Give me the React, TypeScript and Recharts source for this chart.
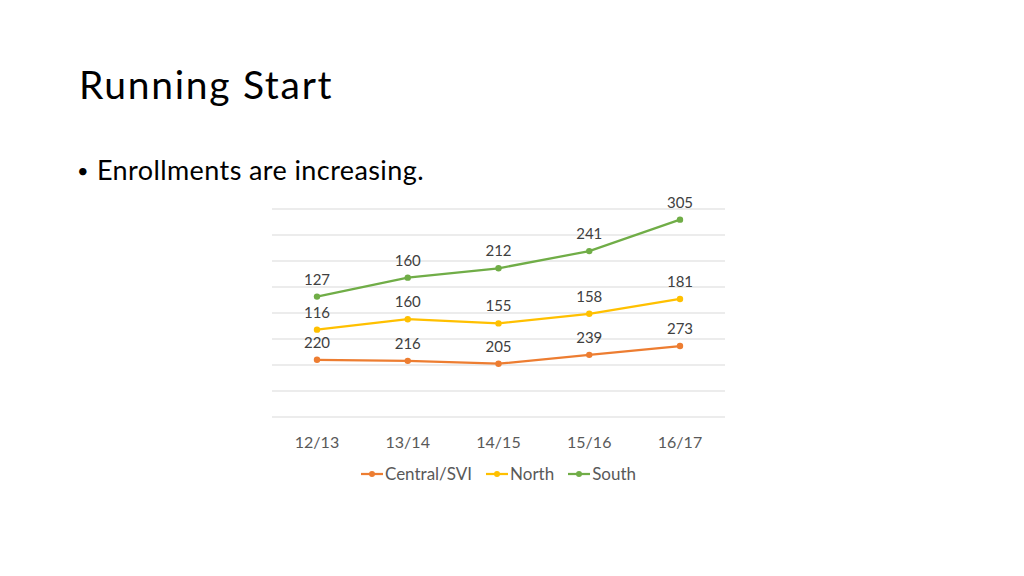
import React from "react";
import { Area, AreaChart, CartesianGrid, LabelList, Legend, XAxis, YAxis } from "recharts";

const years = ["12/13", "13/14", "14/15", "15/16", "16/17"];
const central = [220, 216, 205, 239, 273];
const north = [116, 160, 155, 158, 181];
const south = [127, 160, 212, 241, 305];
const gridTicks = [0, 100, 200, 300, 400, 500, 600, 700, 800];

const series = [
  { key: "central", name: "Central/SVI", color: "#ED7D31" },
  { key: "north", name: "North", color: "#FFC000" },
  { key: "south", name: "South", color: "#70AD47" },
];

const data = years.map((y, i) => ({ year: y, central: central[i], north: north[i], south: south[i] }));

const FONT = "Lato, 'Open Sans', sans-serif";

function LegendContent({ payload }: any) {
  return (
    <div style={{ display: "flex", justifyContent: "center", gap: 14, fontFamily: FONT, fontSize: 17, color: "#595959" }}>
      {(payload || []).map((p: any) => (
        <span key={p.value} style={{ display: "inline-flex", alignItems: "center" }}>
          <svg width={22} height={10} style={{ marginRight: 2 }}>
            <line x1={0} y1={5} x2={22} y2={5} stroke={p.color} strokeWidth={2.25} />
            <circle cx={11} cy={5} r={3} fill={p.color} />
          </svg>
          {p.value}
        </span>
      ))}
    </div>
  );
}

const makeDot = (color: string) => (props: any) => {
  const { cx, cy, index } = props;
  if (cx == null || cy == null) return <g key={index} />;
  return <circle key={index} cx={cx} cy={cy} r={3.2} fill={color} stroke="none" />;
};

export default function App() {
  return (
    <div style={{ position: "absolute", left: 0, top: 0, width: 1024, height: 576, background: "#fff", overflow: "hidden" }}>
      <div style={{ position: "absolute", left: 79, top: 65, fontFamily: FONT, fontSize: 39, letterSpacing: 1.7, lineHeight: 1, color: "#000" }}>
        Running Start
      </div>
      <div style={{ position: "absolute", left: 77, top: 160, fontFamily: FONT, fontSize: 20, lineHeight: 1, color: "#000" }}>•</div>
      <div style={{ position: "absolute", left: 97, top: 156, fontFamily: FONT, fontSize: 27, letterSpacing: 0.4, lineHeight: 1, color: "#000" }}>
        Enrollments are increasing.
      </div>
      <div style={{ position: "absolute", left: 0, top: 0 }}>
        <AreaChart width={1024} height={500} data={data} margin={{ top: 209, right: 299, left: 272, bottom: 16 }}>
          <CartesianGrid vertical={false} stroke="#D9D9D9" />
          <XAxis
            dataKey="year"
            padding={{ left: 45, right: 45 }}
            axisLine={false}
            tickLine={false}
            height={46}
            tickMargin={14}
            tick={{ fontFamily: FONT, fontSize: 16, fill: "#595959" }}
          />
          <YAxis hide domain={[0, 800]} ticks={gridTicks} />
          <Legend verticalAlign="bottom" content={<LegendContent />} />
          {series.map((s) => (
            <Area
              key={s.key}
              type="linear"
              dataKey={s.key}
              name={s.name}
              stackId="a"
              stroke={s.color}
              strokeWidth={2.25}
              fill="none"
              fillOpacity={0}
              dot={makeDot(s.color)}
              activeDot={false}
              isAnimationActive={false}
            >
              <LabelList dataKey={s.key} position="top" offset={12} style={{ fontFamily: FONT, fontSize: 15, fill: "#404040" }} />
            </Area>
          ))}
        </AreaChart>
      </div>
    </div>
  );
}
